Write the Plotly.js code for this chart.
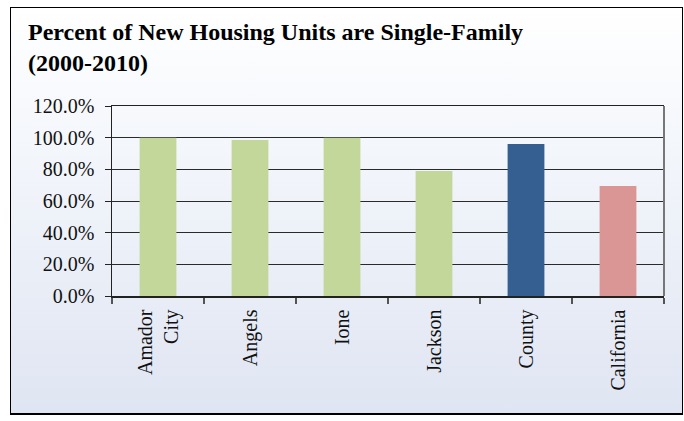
<!DOCTYPE html>
<html>
<head>
<meta charset="utf-8">
<script src="https://cdn.plot.ly/plotly-3.0.1.min.js"></script>
<style>
  html, body { margin: 0; padding: 0; background: #ffffff; }
  #wrap { position: relative; width: 684px; height: 421px; }
  #bg { position: absolute; left: 10px; top: 7px; width: 671px; height: 405px;
        border: 1px solid #000; border-bottom: 2px solid #000;
        background: linear-gradient(to bottom, #ffffff 0%, #f3f6fb 35%, #dfe5f2 100%); }
  #chart { position: absolute; left: 0; top: 0; width: 684px; height: 421px; }
</style>
</head>
<body>
<div id="wrap">
  <div id="bg"></div>
  <div id="chart"></div>
</div>
<script>
const categories = ["Amador<br>City", "Angels", "Ione", "Jackson", "County", "California"];
const percentSingleFamily = [1.00, 0.985, 1.00, 0.79, 0.96, 0.695];
const barColors = ["#c4d79b", "#c4d79b", "#c4d79b", "#c4d79b", "#355f91", "#da9694"];
const yTickValues = [0, 0.2, 0.4, 0.6, 0.8, 1.0, 1.2];
const yTickLabels = ["0.0%", "20.0%", "40.0%", "60.0%", "80.0%", "100.0%", "120.0%"];
const chartTitle = "Percent of New Housing Units are Single-Family<br>(2000-2010)";

const serif = "Liberation Serif, Times New Roman, serif";

const trace = {
  type: "bar",
  x: categories,
  y: percentSingleFamily,
  marker: { color: barColors, line: { width: 0 } },
  hoverinfo: "x+y"
};

const layout = {
  width: 684,
  height: 421,
  paper_bgcolor: "rgba(0,0,0,0)",
  plot_bgcolor: "rgba(0,0,0,0)",
  margin: { l: 112, r: 20, t: 106, b: 125, pad: 0 },
  bargap: 0.6,
  showlegend: false,
  title: {
    text: "<b>" + chartTitle + "</b>",
    font: { family: serif, size: 24, color: "#000" },
    xref: "container", yref: "container",
    x: 28 / 684, xanchor: "left",
    y: 1 - 40 / 421, yanchor: "top"
  },
  xaxis: {
    type: "category",
    tickangle: -90,
    tickson: "boundaries",
    ticks: "outside",
    ticklen: 6,
    tickcolor: "#555",
    tickwidth: 1.5,
    ticklabelstandoff: 4,
    showline: true,
    mirror: true,
    linecolor: "#222",
    linewidth: 1.5,
    showgrid: false,
    tickfont: { family: serif, size: 20, color: "#111" },
    fixedrange: true
  },
  yaxis: {
    range: [0, 1.2],
    tickvals: yTickValues,
    ticktext: yTickLabels,
    ticks: "outside",
    ticklen: 6,
    tickcolor: "#222",
    ticklabelstandoff: 6,
    showline: true,
    linecolor: "#222",
    linewidth: 1.5,
    showgrid: true,
    gridcolor: "#2a2a2a",
    gridwidth: 1,
    zeroline: false,
    tickfont: { family: serif, size: 20, color: "#111" },
    fixedrange: true
  },
  shapes: [
    { type: "line", xref: "paper", yref: "paper", x0: 1, x1: 1, y0: 0, y1: 1,
      line: { color: "#777", width: 2 } }
  ]
};

Plotly.newPlot("chart", [trace], layout, { displayModeBar: false, staticPlot: true });
</script>
</body>
</html>
